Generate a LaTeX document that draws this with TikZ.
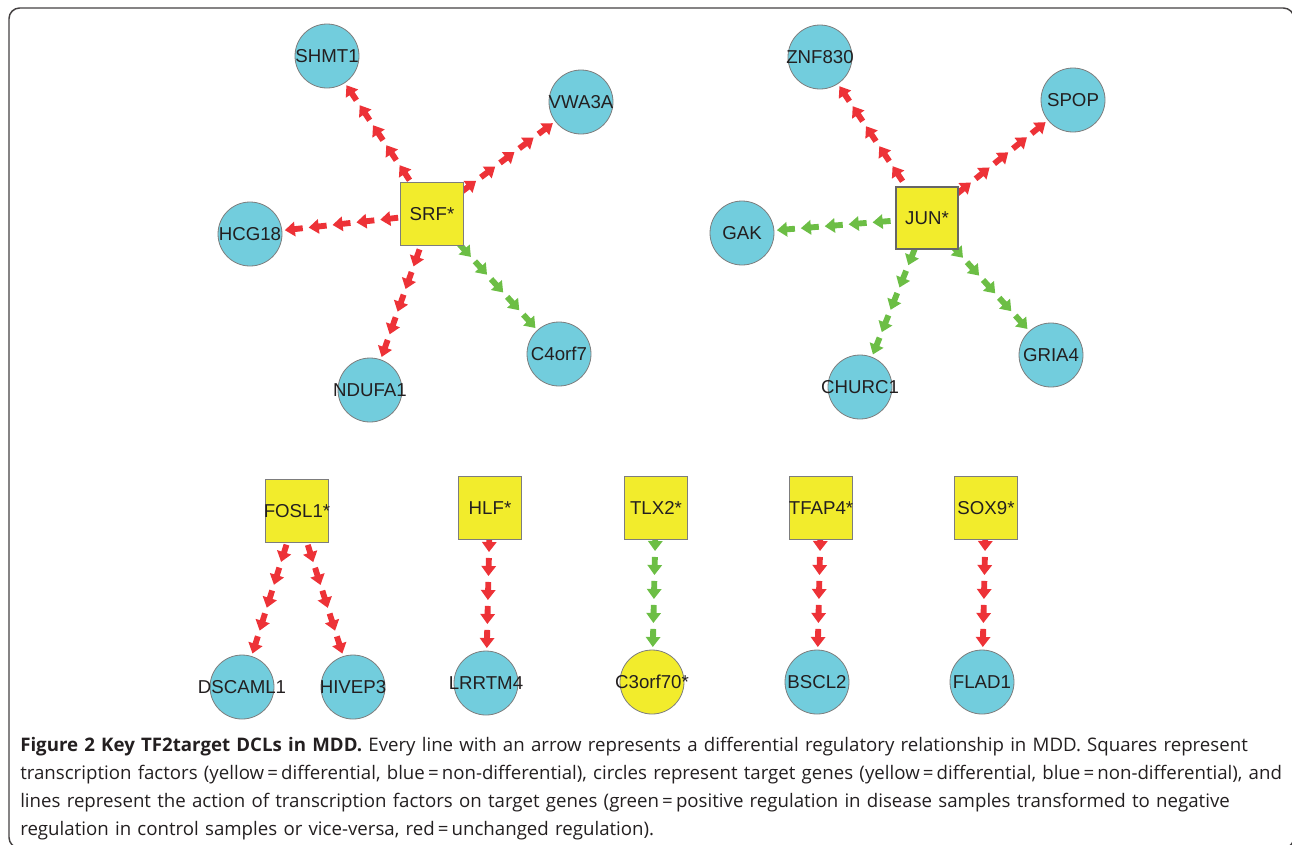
\documentclass[tikz,border=0pt]{standalone}
\usepackage{fontspec}
\newfontfamily\labelfont{Liberation Sans}
\newfontfamily\capfont{Open Sans}
\usetikzlibrary{decorations.markings}
\pgfdeclarelayer{back}
\pgfsetlayers{back,main}
\definecolor{nodeyellow}{RGB}{242,236,44}
\definecolor{nodeblue}{RGB}{114,205,221}
\definecolor{nodegray}{RGB}{125,125,125}
\definecolor{arrowred}{RGB}{237,50,55}
\definecolor{arrowgreen}{RGB}{108,190,69}
\definecolor{textdark}{RGB}{35,31,32}
\newcommand\gname[1]{\makebox[0pt]{#1}}
\newcommand\tipmark[1]{\fill[#1] (-13.5pt,-2.2pt) -- (-7.5pt,-2.2pt) -- (-7.5pt,-5.6pt) -- (0pt,0pt) -- (-7.5pt,5.6pt) -- (-7.5pt,2.2pt) -- (-13.5pt,2.2pt) -- cycle;}
\tikzset{
  tf/.style={rectangle,draw=nodegray,line width=0.6pt,fill=nodeyellow,minimum size=47pt,inner sep=0pt,
             font=\labelfont\fontsize{14}{16}\selectfont,text=textdark},
  gene/.style={circle,draw=nodegray,line width=0.6pt,fill=nodeblue,minimum size=48pt,inner sep=0pt,
               font=\labelfont\fontsize{14}{16}\selectfont,text=textdark},
  tipchain/.style={decorate,decoration={markings,
    mark=at position -2pt with {\tipmark{#1}},
    mark=at position -20pt with {\tipmark{#1}},
    mark=at position -38pt with {\tipmark{#1}},
    mark=at position -56pt with {\tipmark{#1}},
    mark=at position -74pt with {\tipmark{#1}}}}
}

\begin{document}
\begin{tikzpicture}[x=0.75pt,y=-0.75pt]
\useasboundingbox (0,0) rectangle (1292,844);
\draw[textdark!85,line width=1.1pt,rounded corners=8pt] (9,8) rectangle (1294,848);

% transcription factors
\begin{scope}[every node/.style={tf}]
    \node (SRF) at (432,214) {\gname{SRF*}};
    \node[draw=black!60,line width=1.6pt] (JUN) at (927,218) {\gname{JUN*}};
    \node (FOSL1) at (297,511) {\gname{FOSL1*}};
    \node (HLF) at (490,508) {\gname{HLF*}};
    \node (TLX2) at (656,508) {\gname{TLX2*}};
    \node (TFAP4) at (821,508) {\gname{TFAP4*}};
    \node (SOX9) at (986,508) {\gname{SOX9*}};
\end{scope}

% target genes
\begin{scope}[every node/.style={gene}]
    \node (SHMT1) at (327,56) {\gname{SHMT1}};
    \node (VWA3A) at (581,102) {\gname{VWA3A}};
    \node (HCG18) at (250,234) {\gname{HCG18}};
    \node (NDUFA1) at (370,390) {\gname{NDUFA1}};
    \node (C4orf7) at (559,354) {\gname{C4orf7}};
    \node (ZNF830) at (820,57) {\gname{ZNF830}};
    \node (SPOP) at (1073,100) {\gname{SPOP}};
    \node (GAK) at (742,233) {\gname{GAK}};
    \node (CHURC1) at (860,387) {\gname{CHURC1}};
    \node (GRIA4) at (1051,355) {\gname{GRIA4}};
    \node (DSCAML1) at (242,687) {\gname{DSCAML1}};
    \node (HIVEP3) at (353,687) {\gname{HIVEP3}};
    \node (LRRTM4) at (486,683) {\gname{LRRTM4}};
    \node[fill = nodeyellow] (C3orf70) at (652,682) {\gname{C3orf70*}};
    \node (BSCL2) at (817,682) {\gname{BSCL2}};
    \node (FLAD1) at (982,682) {\gname{FLAD1}};
\end{scope}

\begin{pgfonlayer}{back}
\begin{scope}[every edge/.style={tipchain=arrowred}]
    \path (SRF) edge (SHMT1);
    \path (SRF) edge (VWA3A);
    \path (SRF) edge (HCG18);
    \path (SRF) edge (NDUFA1);
    \path (JUN) edge (ZNF830);
    \path (JUN) edge (SPOP);
    \path (FOSL1) edge (DSCAML1);
    \path (FOSL1) edge (HIVEP3);
    \path (HLF) edge (LRRTM4);
    \path (TFAP4) edge (BSCL2);
    \path (SOX9) edge (FLAD1);
\end{scope}
\begin{scope}[every edge/.style={tipchain=arrowgreen}]
    \path (SRF) edge (C4orf7);
    \path (JUN) edge (GAK);
    \path (JUN) edge (CHURC1);
    \path (JUN) edge (GRIA4);
    \path (TLX2) edge (C3orf70);
\end{scope}
\end{pgfonlayer}

% caption
\node[anchor=north west,inner sep=0pt,text width=1000pt,align=left,text=textdark,
      font=\capfont\fontsize{14}{21}\selectfont] (caption) at (20,737)
  {{\bfseries Figure 2 Key TF2target DCLs in MDD.} Every line with an arrow represents a differential regulatory relationship in MDD. Squares represent\\
   transcription factors (yellow\,=\,differential, blue\,=\,non-differential), circles represent target genes (yellow\,=\,differential, blue\,=\,non-differential), and\\
   lines represent the action of transcription factors on target genes (green\,=\,positive regulation in disease samples transformed to negative\\
   regulation in control samples or vice-versa, red\,=\,unchanged regulation).};
\end{tikzpicture}
\end{document}
